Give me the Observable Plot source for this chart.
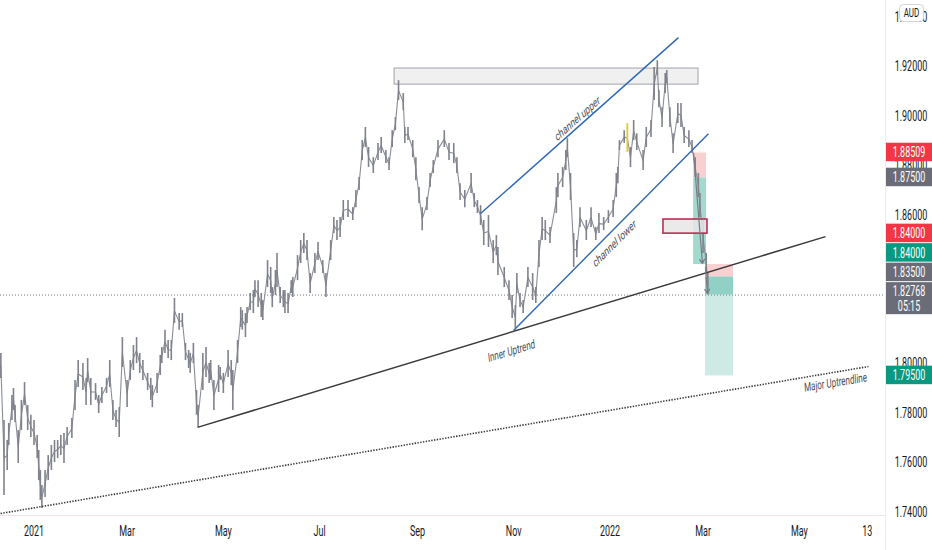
<!DOCTYPE html>
<html><head><meta charset="utf-8">
<script src="https://cdn.jsdelivr.net/npm/d3@7"></script>
<script src="https://cdn.jsdelivr.net/npm/@observablehq/plot@0.6"></script>
<style>body{margin:0;background:#fff;} svg{display:block;}</style>
</head><body><div id="chart"></div>
<script>
// ---- Data (GBP/AUD daily) ----
// day offsets from 2021-01-01
const dayOffset = [-21,-19,-17,-16,-14,-13,-12,-10,-8,-6,-4,-2,0,2,3,4,5,7,9,11,13,15,17,19,21,24,26,28,31,33,34,36,39,41,43,46,48,50,52,54,56,59,61,63,65,67,69,72,74,75,78,80,81,83,85,87,89,92,94,96,98,99,101,103,104,107,109,111,112,114,117,118,120,123,125,126,129,131,132,134,135,137,139,140,142,144,145,148,150,151,153,154,156,158,159,161,163,164,167,169,171,173,175,178,180,183,185,188,190,192,194,196,199,202,204,206,208,210,212,215,218,220,223,225,227,229,231,234,235,237,240,242,244,246,249,251,253,256,260,263,266,268,270,273,277,279,281,283,285,288,291,293,294,298,301,303,305,306,308,310,313,316,318,320,322,324,327,331,332,335,337,338,340,342,344,346,350,353,356,358,361,364,367,369,370,371,374,376,378,380,382,386,388,391,393,395,396,398,400,401,403,405,408,410,412,415,417,419,421,422,424,426,427];
const highs = [1.8041,1.7770,1.7689,1.7758,1.7871,1.7899,1.7830,1.7729,1.7851,1.7923,1.7830,1.7791,1.7770,1.7709,1.7649,1.7568,1.7507,1.7568,1.7628,1.7669,1.7689,1.7689,1.7709,1.7717,1.7742,1.7778,1.7932,1.8012,1.8000,1.7940,1.8020,1.7940,1.7919,1.7871,1.7903,1.7940,1.8012,1.7851,1.7810,1.7822,1.8105,1.7932,1.8012,1.8073,1.8105,1.8041,1.8012,1.7960,1.7940,1.7911,1.7960,1.8033,1.8065,1.8135,1.8093,1.8093,1.8263,1.8202,1.8202,1.8081,1.8053,1.8041,1.8081,1.7891,1.7830,1.8041,1.8065,1.8000,1.8012,1.7932,1.7992,1.7984,1.7960,1.8053,1.8012,1.7972,1.8093,1.8226,1.8214,1.8202,1.8226,1.8283,1.8295,1.8335,1.8335,1.8283,1.8255,1.8416,1.8388,1.8307,1.8376,1.8445,1.8307,1.8295,1.8295,1.8283,1.8335,1.8348,1.8436,1.8497,1.8525,1.8497,1.8364,1.8445,1.8489,1.8416,1.8364,1.8497,1.8590,1.8578,1.8590,1.8659,1.8659,1.8630,1.8699,1.8752,1.8901,1.8954,1.8873,1.8832,1.8889,1.8913,1.8861,1.8832,1.8941,1.8994,1.9143,1.9091,1.8954,1.8954,1.8901,1.8832,1.8711,1.8630,1.8671,1.8768,1.8820,1.8901,1.8941,1.8889,1.8889,1.8832,1.8727,1.8699,1.8768,1.8687,1.8659,1.8638,1.8578,1.8598,1.8497,1.8517,1.8469,1.8388,1.8335,1.8275,1.8234,1.8364,1.8283,1.8255,1.8388,1.8364,1.8307,1.8497,1.8590,1.8578,1.8550,1.8711,1.8768,1.8792,1.8861,1.8909,1.8768,1.8525,1.8497,1.8630,1.8578,1.8630,1.8550,1.8606,1.8590,1.8618,1.8659,1.8768,1.8792,1.8901,1.8941,1.8970,1.8873,1.8982,1.8929,1.8861,1.8954,1.8982,1.9196,1.9224,1.9103,1.9034,1.9172,1.9184,1.9034,1.8929,1.9051,1.9051,1.8954,1.8941,1.8901,1.8832,1.8768,1.8687,1.8578,1.8445,1.8364];
const lows = [1.7940,1.7467,1.7568,1.7669,1.7770,1.7810,1.7762,1.7596,1.7729,1.7830,1.7729,1.7701,1.7669,1.7616,1.7527,1.7447,1.7414,1.7459,1.7527,1.7568,1.7600,1.7616,1.7628,1.7596,1.7669,1.7697,1.7810,1.7903,1.7891,1.7830,1.7923,1.7830,1.7851,1.7798,1.7839,1.7879,1.7903,1.7770,1.7742,1.7701,1.7984,1.7822,1.7932,1.7972,1.8000,1.7960,1.7932,1.7891,1.7851,1.7822,1.7879,1.7952,1.8000,1.8041,1.8020,1.8012,1.8162,1.8135,1.8146,1.8012,1.7980,1.7960,1.8000,1.7791,1.7742,1.7891,1.7944,1.7919,1.7932,1.7810,1.7883,1.7932,1.7879,1.7944,1.7911,1.7810,1.8000,1.8146,1.8135,1.8105,1.8162,1.8214,1.8202,1.8267,1.8226,1.8186,1.8174,1.8307,1.8283,1.8226,1.8275,1.8307,1.8243,1.8226,1.8202,1.8202,1.8283,1.8267,1.8335,1.8404,1.8445,1.8416,1.8283,1.8364,1.8416,1.8364,1.8267,1.8416,1.8525,1.8497,1.8509,1.8578,1.8590,1.8578,1.8630,1.8699,1.8820,1.8873,1.8792,1.8768,1.8820,1.8849,1.8808,1.8780,1.8873,1.8941,1.9063,1.9022,1.8889,1.8901,1.8832,1.8739,1.8647,1.8537,1.8618,1.8711,1.8768,1.8832,1.8873,1.8820,1.8808,1.8768,1.8659,1.8630,1.8687,1.8630,1.8606,1.8558,1.8477,1.8469,1.8404,1.8436,1.8356,1.8307,1.8255,1.8182,1.8142,1.8283,1.8226,1.8202,1.8307,1.8255,1.8243,1.8388,1.8497,1.8497,1.8485,1.8606,1.8671,1.8711,1.8780,1.8832,1.8659,1.8388,1.8428,1.8550,1.8497,1.8550,1.8497,1.8525,1.8537,1.8566,1.8590,1.8671,1.8727,1.8861,1.8889,1.8853,1.8792,1.8901,1.8861,1.8780,1.8873,1.8913,1.9063,1.9164,1.9034,1.8954,1.9091,1.9131,1.8954,1.8849,1.8970,1.8954,1.8889,1.8873,1.8849,1.8752,1.8671,1.8590,1.8445,1.8364,1.8277];
const highlightDay = 376;
const currentPrice = 1.82768;
const countdown = "05:15";

// drawings: [dayStart, priceStart, dayEnd, priceEnd]
const channelUpper = [283.0, 1.8606, 408.4, 1.9317];
const channelLower = [303.9, 1.8134, 427.4, 1.8929];
const innerUptrend = [103.6, 1.7742, 501.6, 1.8513];
const majorUptrend = [-21.2, 1.7394, 528.8, 1.7988];
const resistanceZone = [228.5, 1.9192, 421.1, 1.9127];
const retestZone = [398.9, 1.8582, 426.8, 1.8525];
const arrows = [[418.0, 1.8849, 423.6, 1.8404], [425.5, 1.8388, 426.8, 1.8283]];
// short positions: dayStart, dayEnd, stop, entry, target
const positions = [
  {d1: 418.0, d2: 426.2, stop: 1.88509, entry: 1.875, target: 1.84, hit: true},
  {d1: 425.5, d2: 443.3, stop: 1.84, entry: 1.835, target: 1.795, hit: false}
];
// annotation labels: text, day, price, screen slope of the line
const labelText = ["channel upper", "channel lower", "Inner Uptrend", "Major Uptrendline"];
const labelDay = [344.4, 367.9, 302.6, 507.9];
const labelPrice = [1.8990, 1.8485, 1.8050, 1.7923];
const labelSlope = [-0.889, -1.01, -0.304, -0.165];

const xTickDates = ["2021-01-01","2021-03-01","2021-05-01","2021-07-01","2021-09-01","2021-11-01","2022-01-01","2022-03-01","2022-05-01","2022-06-13"];
const xTickLabels = ["2021","Mar","May","Jul","Sep","Nov","2022","Mar","May","13"];
const yTicks = [1.74,1.76,1.78,1.80,1.82,1.84,1.86,1.88,1.90,1.92,1.94];
// right-axis price tags
const tagPrice = [1.88509, 1.875, 1.84, 1.84, 1.835, 1.82768, 1.795];
const tagText = ["1.88509","1.87500","1.84000","1.84000","1.83500","1.82768","1.79500"];
const tagColor = ["#f23645","#6a6d78","#f23645","#089981","#6a6d78","#6a6d78","#089981"];
const currency = "AUD";

// ---- Build ----
const SQ = 0.64; // horizontal squash of the screenshot
const W = 932, H = 550, mRight = 47, mBottom = 35;
const paneRight = W - mRight, paneBottom = H - mBottom;
const yDomain = [1.7386, 1.9467];
const base = Date.UTC(2021, 0, 1);
const toDate = d => new Date(base + d * 864e5);
const bars = dayOffset.map((d, i) => ({date: toDate(d), high: highs[i], low: lows[i], mid: (highs[i] + lows[i]) / 2, hl: d === highlightDay}));
const seg = (a) => ({x1: toDate(a[0]), y1: a[1], x2: toDate(a[2]), y2: a[3]});
const zoneRects = [];
positions.forEach(p => {
  zoneRects.push({x1: toDate(p.d1), x2: toDate(p.d2), y1: p.entry, y2: p.stop, fill: "#f9d0d2"});
  if (p.hit) {
    zoneRects.push({x1: toDate(p.d1), x2: toDate(p.d2), y1: p.target, y2: p.entry, fill: "#a3dace"});
  } else {
    zoneRects.push({x1: toDate(p.d1), x2: toDate(p.d2), y1: p.target, y2: currentPrice, fill: "#cdeae4"});
    zoneRects.push({x1: toDate(p.d1), x2: toDate(p.d2), y1: currentPrice, y2: p.entry, fill: "#91d1c5"});
  }
});
const labels = labelText.map((t, i) => ({text: t, date: toDate(labelDay[i]), price: labelPrice[i],
  rot: Math.atan(SQ * labelSlope[i]) * 180 / Math.PI}));
const xTicks = xTickDates.map(s => new Date(s + "T00:00Z"));
const xLabelMap = new Map(xTicks.map((d, i) => [+d, xTickLabels[i]]));

// price tags placed with Plot's y scale, stacked upward where they would overlap
const yScale = Plot.scale({y: {domain: yDomain, range: [paneBottom, 0]}});
const tags = tagPrice.map((p, i) => {
  const cy = yScale.apply(p);
  const isCur = tagText[i] === "1.82768";
  const h = isCur ? 33 : 19.5;
  return {text: tagText[i], color: tagColor[i], cur: isCur, h, top: isCur ? cy - 12.4 : cy - h / 2};
});
for (let i = tags.length - 2; i >= 0; i--) {
  if (tags[i].top + tags[i].h > tags[i + 1].top) tags[i].top = tags[i + 1].top - tags[i].h;
}
// tick labels hidden behind a tag (as on the price scale) are not drawn
const shownTicks = yTicks.filter(v => {
  const cy = yScale.apply(v);
  return !tags.some(t => cy > t.top - 2 && cy < t.top + t.h + 2);
});

const chart = Plot.plot({
  width: W, height: H,
  marginLeft: 0, marginRight: mRight, marginTop: 0, marginBottom: mBottom,
  style: {fontFamily: "Roboto, sans-serif", background: "#ffffff", overflow: "visible"},
  x: {type: "utc", domain: [new Date("2020-12-10T18:29Z"), new Date("2022-06-24T14:24Z")]},
  y: {domain: yDomain},
  marks: [
    Plot.rect(zoneRects, {x1: "x1", x2: "x2", y1: "y1", y2: "y2", fill: "fill"}),
    Plot.rect([seg(resistanceZone)], {x1: "x1", x2: "x2", y1: "y1", y2: "y2", fill: "#f0f0f1", stroke: "#a0a3ab", strokeWidth: 1}),
    Plot.ruleY([currentPrice], {stroke: "#787b86", strokeDasharray: "1,2", strokeWidth: 1}),
    Plot.line(bars, {x: "date", y: "mid", stroke: "#8a8d96", strokeWidth: 1.1}),
    Plot.ruleX(bars.filter(b => !b.hl), {x: "date", y1: "low", y2: "high", stroke: "#7f828b", strokeWidth: 1.6}),
    Plot.ruleX(bars.filter(b => b.hl), {x: "date", y1: "low", y2: "high", stroke: "#e5c82a", strokeWidth: 1.8}),
    Plot.rect([seg(retestZone)], {x1: "x1", x2: "x2", y1: "y1", y2: "y2", fill: "#e6e6e8", fillOpacity: 0.85, stroke: "#b5234a", strokeWidth: 1.5}),
    Plot.link([seg(channelUpper), seg(channelLower)], {x1: "x1", y1: "y1", x2: "x2", y2: "y2", stroke: "#2d68b4", strokeWidth: 1.4}),
    Plot.link([seg(innerUptrend)], {x1: "x1", y1: "y1", x2: "x2", y2: "y2", stroke: "#3a3a3a", strokeWidth: 1.5}),
    Plot.link([seg(majorUptrend)], {x1: "x1", y1: "y1", x2: "x2", y2: "y2", stroke: "#3a3a3a", strokeWidth: 1.6, strokeDasharray: "1.4,1.4"}),
    Plot.arrow(arrows.map(seg), {x1: "x1", y1: "y1", x2: "x2", y2: "y2", stroke: "#787b86", strokeWidth: 1.2, headLength: 6}),
    Plot.text(labels, {x: "date", y: "price", text: "text", rotate: "rot", fontSize: 12.5, fill: "#4a4c55", textAnchor: "middle"}),
    Plot.axisX(xTicks, {anchor: "bottom", tickSize: 0, tickPadding: 11, fontSize: 14, fill: "#131722",
      tickFormat: d => xLabelMap.get(+d)}),
    Plot.axisY(shownTicks, {anchor: "right", tickSize: 0, tickPadding: 0, fontSize: 14, fill: "#131722",
      tickFormat: d => d.toFixed(5)})
  ]
});
document.getElementById("chart").appendChild(chart);

// ---- pane separators, price tags and currency badge ----
const svg = d3.select(chart);
svg.append("line").attr("x1", 0).attr("x2", paneRight).attr("y1", paneBottom + 0.5).attr("y2", paneBottom + 0.5).attr("stroke", "#f1e4e7");
svg.append("line").attr("x1", paneRight + 0.5).attr("x2", paneRight + 0.5).attr("y1", 0).attr("y2", H).attr("stroke", "#eceef2");

const tg = svg.append("g").attr("font-family", "Roboto, sans-serif").attr("font-size", 14);
tags.forEach(t => {
  tg.append("rect").attr("x", paneRight + 1).attr("y", t.top).attr("width", W - paneRight - 1).attr("height", t.h - 1).attr("fill", t.color);
  tg.append("text").attr("x", paneRight + 24).attr("y", t.top + (t.cur ? 8.5 : t.h / 2)).attr("dy", "0.36em")
    .attr("text-anchor", "middle").attr("fill", "#fff").text(t.text);
  if (t.cur) tg.append("text").attr("x", paneRight + 24).attr("y", t.top + 24).attr("dy", "0.36em")
    .attr("text-anchor", "middle").attr("fill", "#fff").text(countdown);
});
const badge = svg.append("g").attr("font-family", "Roboto, sans-serif");
badge.append("rect").attr("x", 899.5).attr("y", 4.5).attr("width", 24).attr("height", 17).attr("rx", 4)
  .attr("fill", "#fff").attr("stroke", "#d1d4dc");
badge.append("text").attr("x", 911.5).attr("y", 13).attr("dy", "0.36em").attr("text-anchor", "middle")
  .attr("font-size", 12.5).attr("fill", "#131722").text(currency);

// squash all text horizontally like the screenshot
chart.querySelectorAll("text").forEach(t => {
  const g = document.createElementNS("http://www.w3.org/2000/svg", "g");
  t.parentNode.insertBefore(g, t);
  g.appendChild(t);
  const b = g.getBBox();
  const cx = b.x + b.width / 2;
  g.setAttribute("transform", `translate(${cx},0) scale(${SQ},1) translate(${-cx},0)`);
});
</script>
</body></html>
